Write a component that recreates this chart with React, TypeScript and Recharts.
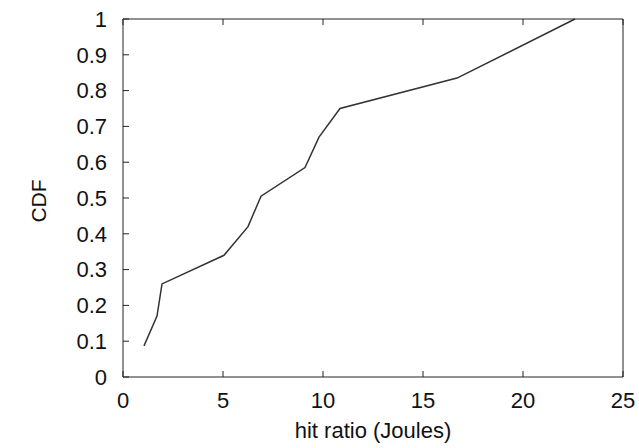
import React from 'react';
import { LineChart, Line, XAxis, YAxis } from 'recharts';

const hitRatio = [1.05, 1.7, 1.95, 5.05, 6.25, 6.9, 9.1, 9.8, 10.85, 16.7, 22.6];
const cdf = [0.087, 0.17, 0.26, 0.34, 0.42, 0.505, 0.585, 0.67, 0.75, 0.835, 1.0];
const xTicks = [0, 5, 10, 15, 20, 25];
const yTicks = [0, 0.1, 0.2, 0.3, 0.4, 0.5, 0.6, 0.7, 0.8, 0.9, 1];

const data = hitRatio.map((x, i) => ({ x, cdf: cdf[i] }));

const font = '"Liberation Sans", Arial, sans-serif';
const tickStyle = { fill: '#111', fontSize: 22, fontFamily: font };
const axisColor = '#222';

export default function App() {
  return (
    <div style={{ position: 'absolute', left: 0, top: 0, background: '#fff' }}>
      <LineChart width={639} height={448} data={data} margin={{ top: 18, right: 15, bottom: 0, left: 0 }}>
        <XAxis
          xAxisId="bottom"
          dataKey="x"
          type="number"
          domain={[0, 25]}
          ticks={xTicks}
          height={71}
          tickSize={-6}
          tickMargin={21}
          tick={tickStyle}
          stroke={axisColor}
          label={{ value: 'hit ratio (Joules)', position: 'center', dy: 18, fill: '#111', fontSize: 22, fontFamily: font }}
        />
        <XAxis
          xAxisId="top"
          orientation="top"
          dataKey="x"
          type="number"
          domain={[0, 25]}
          ticks={xTicks}
          height={1}
          tickSize={-6}
          tickFormatter={() => ''}
          stroke={axisColor}
        />
        <YAxis
          yAxisId="left"
          type="number"
          domain={[0, 1]}
          ticks={yTicks}
          width={123}
          tickSize={-6}
          tickMargin={22}
          tick={tickStyle}
          tickFormatter={(v: number) => String(v)}
          stroke={axisColor}
          label={{ value: 'CDF', angle: -90, position: 'center', dx: -23, dy: 3, fill: '#111', fontSize: 21, fontFamily: font }}
        />
        <YAxis
          yAxisId="right"
          orientation="right"
          type="number"
          domain={[0, 1]}
          ticks={yTicks}
          width={1}
          tickSize={-6}
          tickFormatter={() => ''}
          stroke={axisColor}
        />
        <Line
          xAxisId="bottom"
          yAxisId="left"
          type="linear"
          dataKey="cdf"
          stroke="#333"
          strokeWidth={1.5}
          dot={false}
          isAnimationActive={false}
        />
      </LineChart>
    </div>
  );
}
